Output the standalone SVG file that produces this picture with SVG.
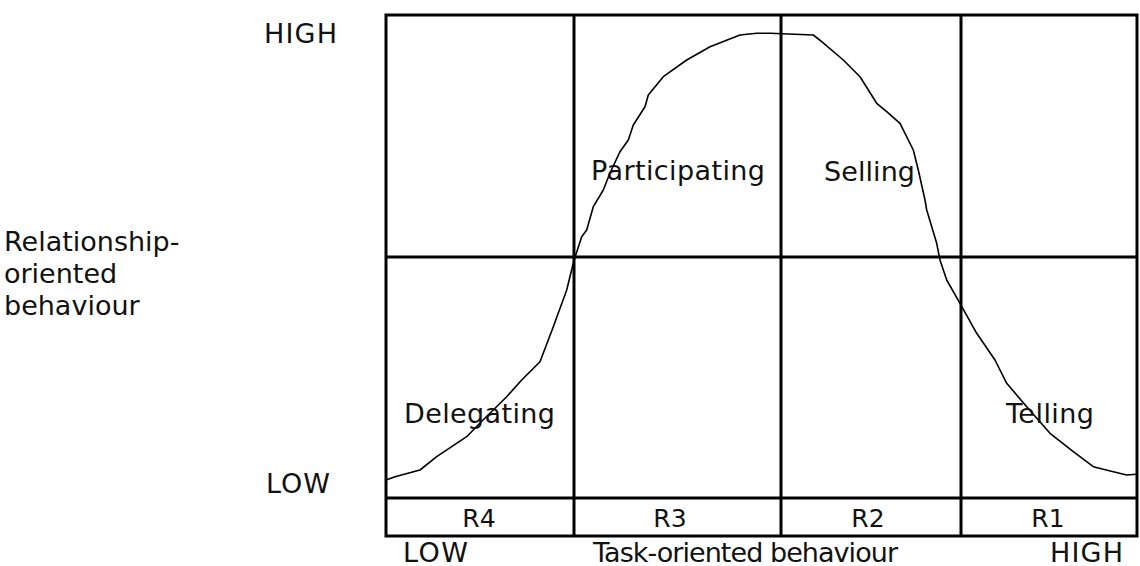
<svg xmlns="http://www.w3.org/2000/svg" width="1140" height="566" viewBox="0 0 1140 566">
  <style>
    .grid { fill: none; stroke: #000; stroke-width: 3; }
    .curve { fill: none; stroke: #000; stroke-width: 1.6; stroke-linejoin: round; stroke-linecap: round; }
    .lbl { font-family: "DejaVu Sans", "Liberation Sans", sans-serif; font-size: 27px; fill: #111; }
    .rlbl { font-family: "DejaVu Sans", "Liberation Sans", sans-serif; font-size: 25px; fill: #111; text-anchor: middle; }
  </style>
  <rect width="1140" height="566" fill="#fff"/>

  <!-- quadrant grid with the readiness row underneath -->
  <g id="grid" class="grid">
    <rect x="386" y="15" width="751" height="521"/>
    <line x1="386" y1="257" x2="1137" y2="257"/>
    <line x1="386" y1="498" x2="1137" y2="498"/>
    <line x1="574" y1="15" x2="574" y2="536"/>
    <line x1="781" y1="15" x2="781" y2="536"/>
    <line x1="961" y1="15" x2="961" y2="536"/>
  </g>

  <!-- bell-shaped style curve -->
  <g id="connectors">
    <polyline class="curve" points="386,480 395,476.7 420,470 436.7,456.7 466.7,436.7 480,423 506.7,396.7 521.7,380 540,361.7 553.3,326.7 566.7,290 573.3,263.3 575,257.3 581.7,236.7 586.7,230 593.3,206.7 603.3,190 610,173 620,151.7 628.3,140 633.3,125 645,106.7 648.3,95 663.3,76.7 686.7,60 710,46.7 740,35 756.7,33.3 770,33.3 813.3,35 821.7,41.7 843.3,60 860,76.7 876.7,103.3 886.7,111.7 900,123.3 913.3,150 918.3,170 925,200 926.7,210 936.7,243.3 940,260 946.7,280 960,303.3 976.7,333.3 995,360 1006.7,383.3 1026.7,406.7 1050,433.3 1073.3,451.7 1093.3,466.7 1113.3,471.7 1126.7,475 1136.7,474.3"/>
  </g>

  <!-- leadership styles -->
  <g id="participating"><text class="lbl" x="591" y="180" textLength="174" lengthAdjust="spacing">Participating</text></g>
  <g id="selling"><text class="lbl" x="824" y="181" textLength="91" lengthAdjust="spacing">Selling</text></g>
  <g id="delegating"><text class="lbl" x="404" y="423" textLength="151" lengthAdjust="spacing">Delegating</text></g>
  <g id="telling"><text class="lbl" x="1006" y="423" textLength="88" lengthAdjust="spacing">Telling</text></g>

  <!-- readiness levels -->
  <g id="r4"><text class="rlbl" x="479" y="527">R4</text></g>
  <g id="r3"><text class="rlbl" x="670" y="527">R3</text></g>
  <g id="r2"><text class="rlbl" x="868" y="527">R2</text></g>
  <g id="r1"><text class="rlbl" x="1048" y="527">R1</text></g>

  <!-- vertical axis -->
  <g id="y-axis">
    <text class="lbl" x="264" y="43" textLength="73" lengthAdjust="spacing">HIGH</text>
    <text class="lbl" x="266" y="493" textLength="64" lengthAdjust="spacing">LOW</text>
    <text class="lbl" x="4" y="251">Relationship-</text>
    <text class="lbl" x="4" y="283">oriented</text>
    <text class="lbl" x="4" y="315">behaviour</text>
  </g>

  <!-- horizontal axis -->
  <g id="x-axis">
    <text class="lbl" x="403" y="562" textLength="65" lengthAdjust="spacing">LOW</text>
    <text class="lbl" x="593" y="562" textLength="305" lengthAdjust="spacing">Task-oriented behaviour</text>
    <text class="lbl" x="1050" y="562" textLength="73" lengthAdjust="spacing">HIGH</text>
  </g>
</svg>
